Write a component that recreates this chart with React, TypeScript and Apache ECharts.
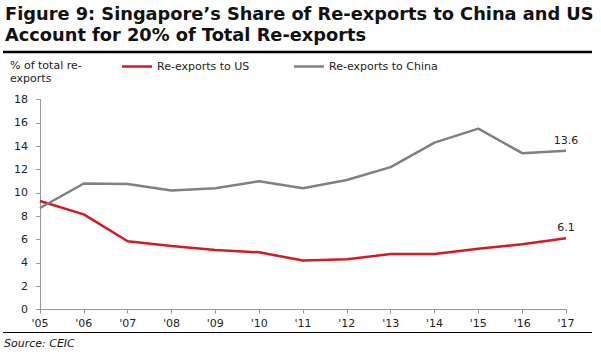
import React, { useEffect, useRef } from "react";
import * as echarts from "echarts";

const years = ["'05", "'06", "'07", "'08", "'09", "'10", "'11", "'12", "'13", "'14", "'15", "'16", "'17"];
const usShare = [9.3, 8.15, 5.85, 5.45, 5.1, 4.9, 4.2, 4.3, 4.75, 4.75, 5.2, 5.6, 6.1];
const chinaShare = [8.7, 10.8, 10.75, 10.2, 10.4, 11.0, 10.4, 11.1, 12.2, 14.3, 15.5, 13.4, 13.6];
const yTicks = [0, 2, 4, 6, 8, 10, 12, 14, 16, 18];

const FONT = "DejaVu Sans";

export default function App() {
  const ref = useRef<HTMLDivElement>(null);
  useEffect(() => {
    if (!ref.current) return;
    const chart = echarts.init(ref.current, undefined, { renderer: "svg" });
    const lastLabel = (arr: number[]) =>
      arr.map((v, i) =>
        i === arr.length - 1
          ? { value: v, label: { show: true, position: "top", distance: 5, formatter: String(v), color: "#222", fontFamily: FONT, fontSize: 11 } }
          : v
      );
    const legendCommon = {
      top: 61,
      padding: 0,
      icon: "rect",
      itemWidth: 30,
      itemHeight: 2.5,
      textStyle: { fontFamily: FONT, fontSize: 11, color: "#222" },
    };
    chart.setOption({
      animation: false,
      backgroundColor: "#fff",
      textStyle: { fontFamily: FONT },
      grid: { left: 40, right: 35, top: 99.5, bottom: 53.5 },
      legend: [
        { ...legendCommon, data: ["Re-exports to US"], left: 122 },
        { ...legendCommon, data: ["Re-exports to China"], left: 294 },
      ],
      xAxis: {
        type: "category",
        data: years,
        boundaryGap: false,
        axisLine: { lineStyle: { color: "#999", width: 1 } },
        axisTick: { show: true, length: 4, lineStyle: { color: "#999" } },
        axisLabel: { color: "#222", fontFamily: FONT, fontSize: 11, margin: 8 },
        splitLine: { show: false },
      },
      yAxis: {
        type: "value",
        min: 0,
        max: 18,
        interval: 2,
        axisLine: { show: true, lineStyle: { color: "#999", width: 1 } },
        axisTick: { show: true, length: 4, lineStyle: { color: "#999" } },
        axisLabel: { color: "#222", fontFamily: FONT, fontSize: 11, margin: 12, formatter: (v: number) => (yTicks.includes(v) ? String(v) : "") },
        splitLine: { show: false },
      },
      series: [
        {
          name: "Re-exports to US",
          type: "line",
          data: lastLabel(usShare),
          symbol: "circle",
          symbolSize: 0,
          showSymbol: true,
          lineStyle: { color: "#d71920", width: 2.5 },
          itemStyle: { color: "#d71920" },
        },
        {
          name: "Re-exports to China",
          type: "line",
          data: lastLabel(chinaShare),
          symbol: "circle",
          symbolSize: 0,
          showSymbol: true,
          lineStyle: { color: "#808080", width: 2.5 },
          itemStyle: { color: "#808080" },
        },
      ],
      graphic: [
        {
          type: "text",
          left: 5,
          top: 3,
          style: {
            text: "Figure 9: Singapore\u2019s Share of Re-exports to China and US\nAccount for 20% of Total Re-exports",
            font: `bold 17.8px '${FONT}'`,
            fill: "#111",
            lineHeight: 21,
          },
        },
        {
          type: "line",
          shape: { x1: 3, y1: 52, x2: 592, y2: 52 },
          style: { stroke: "#000", lineWidth: 2.5 },
        },
        {
          type: "text",
          left: 10,
          top: 59,
          style: {
            text: "% of total re-\nexports",
            font: `11px '${FONT}'`,
            fill: "#222",
            lineHeight: 13,
          },
        },
        {
          type: "line",
          shape: { x1: 3, y1: 332.5, x2: 592, y2: 332.5 },
          style: { stroke: "#000", lineWidth: 1.2 },
        },
        {
          type: "text",
          left: 4,
          top: 338,
          style: {
            text: "Source: CEIC",
            font: `italic 11px '${FONT}'`,
            fill: "#111",
          },
        },
      ],
    });
    return () => chart.dispose();
  }, []);
  return <div ref={ref} style={{ width: 601, height: 363, position: "absolute", left: 0, top: 0 }} />;
}
